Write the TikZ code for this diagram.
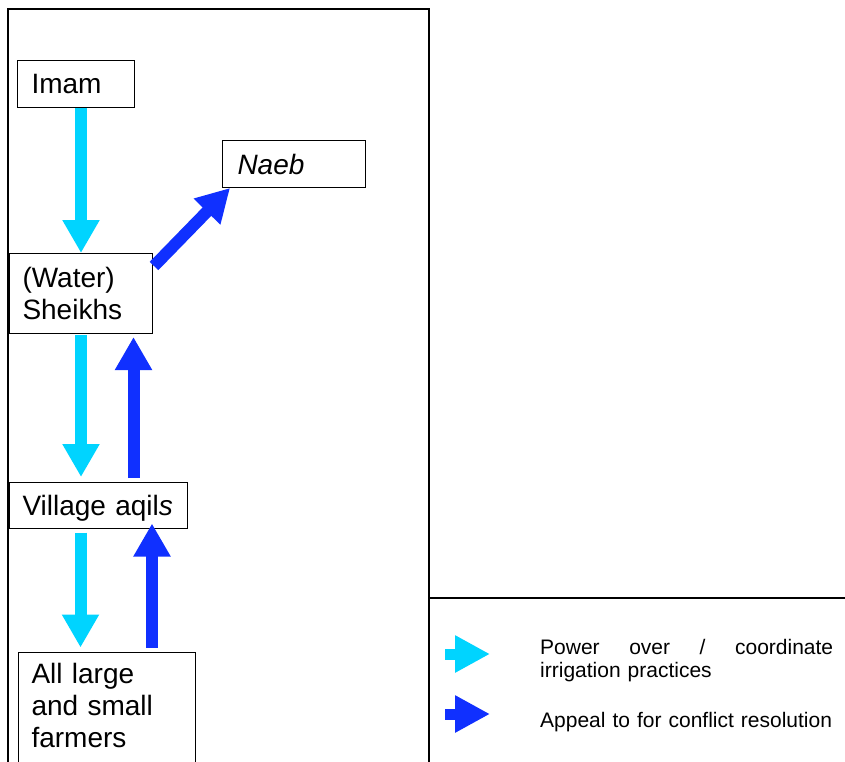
\documentclass[tikz,border=0pt]{standalone}
\usepackage{fontspec}
\setmainfont{Liberation Sans}
\usetikzlibrary{positioning, arrows.meta}
\usepackage{xcolor}
\definecolor{powercyan}{RGB}{0,212,255}
\definecolor{appealblue}{RGB}{16,48,255}
\newcommand{\boxfont}{\fontsize{28}{32}\selectfont}
\newcommand{\keyfont}{\fontsize{21}{23.5}\selectfont}

\begin{document}
\begin{tikzpicture}[x=1pt, y=-1pt,
    box/.style={draw, line width=1pt, anchor=north west, font=\boxfont, align=left, inner ysep=0pt},
    power/.style={draw=powercyan, line width=12pt, -{Triangle[width=35pt,length=33pt]}},
    appeal/.style={draw=appealblue, line width=12pt, -{Triangle[width=35pt,length=33pt]}},
    keytext/.style={anchor=base west, font=\keyfont, text width=293pt, align=left, inner sep=0pt}]

        \path[use as bounding box, clip] (0,0) rectangle (845,762);

        % Frame of the table
        \draw[line width=1.3pt] (8,770) |- (429,9) -- (429,770);
        \draw[line width=1.3pt] (429,598) -- (850,598);

        % Boxes
        \node[box, text width=89pt, inner xsep=14pt, minimum height=47pt] (imam) at (17,60) {Imam};
        \node[box, text width=113pt, inner xsep=15pt, minimum height=47pt] (naeb) at (222,140) {\textit{Naeb}};
        \node[box, text width=117pt, inner xsep=13pt, minimum height=80pt] (sheikhs) at (9,253) {(Water)\\Sheikhs};
        \node[box, text width=152pt, inner xsep=13pt, minimum height=46pt, text depth=0pt] (village) at (9,482) {Village aqil\textit{s}};
        \node[box, text width=151pt, inner xsep=13pt, inner ysep=11pt] (farmers) at (18,652) {All large\\and small\\farmers\rule[-30pt]{0pt}{30pt}};

        % Power over (downwards)
        \draw[power] (imam.south -| sheikhs.north) -- (sheikhs.north);
        \draw[power, shorten <=1pt, shorten >=5pt] (sheikhs.south) -- (sheikhs.south |- village.north);
        \coordinate (vdown) at ([xshift=-18pt]village.south);
        \draw[power, shorten <=3.5pt, shorten >=4.5pt] (vdown) -- (vdown |- farmers.north);

        % Appeal (upwards)
        \coordinate (vup) at ([xshift=35pt]village.north);
        \draw[appeal, shorten <=4pt, shorten >=3pt] (vup) -- (vup |- sheikhs.south);
        \coordinate (fup) at ([xshift=45pt]farmers.north);
        \draw[appeal, shorten <=4.5pt, shorten >=-5.5pt] (fup) -- (fup |- village.south);
        \draw[appeal] ([yshift=-13pt, xshift=1pt]sheikhs.north east) -- ([xshift=8pt]naeb.south west);

        % Key
        \node[keytext] (key1) at (540,654) {Power\hfill over\hfill /\hfill coordinate\\irrigation practices};
        \node[keytext] (key2) at (540,727) {Appeal to for conflict resolution};
        \coordinate (k1a) at (445,654);
        \coordinate (k1b) at (490,654);
        \coordinate (k2a) at (445,714);
        \coordinate (k2b) at (490,714);
        \draw[power, line width=11pt, -{Triangle[width=35pt,length=35pt]}] (k1a) -- (k1b);
        \draw[appeal, line width=11pt, -{Triangle[width=35pt,length=35pt]}] (k2a) -- (k2b);

    \end{tikzpicture}
\end{document}
